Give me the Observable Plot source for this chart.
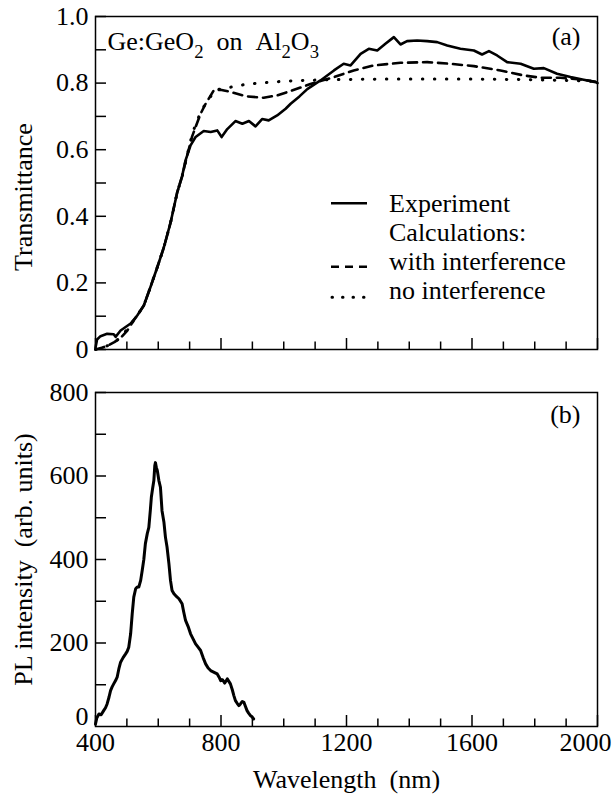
<!DOCTYPE html>
<html><head><meta charset="utf-8">
<script src="https://cdn.jsdelivr.net/npm/d3@7"></script>
<script src="https://cdn.jsdelivr.net/npm/@observablehq/plot@0.6"></script>
<style>
body{margin:0;background:#fff;}
#chart{width:616px;position:relative;}
#chart svg{display:block;}
#legend{position:absolute;left:0;top:0;}
</style></head><body><div id="chart"></div>
<script>
// ---- Panel (a): transmittance ----
const expNm = [400,405,416,437,458,464,480,512,533,554,575,597,618,639,660,676,687,703,719,745,767,788,802,820,846,868,889,910,931,952,979,1006,1022,1050,1075,1117,1160,1191,1213,1245,1271,1298,1324,1351,1372,1393,1425,1457,1489,1521,1563,1606,1632,1654,1680,1712,1755,1797,1829,1871,1914,1956,1994,2000];
const expT  = [0.005,0.03,0.040,0.047,0.046,0.038,0.057,0.078,0.102,0.132,0.187,0.247,0.307,0.38,0.47,0.52,0.568,0.613,0.638,0.656,0.653,0.658,0.638,0.662,0.686,0.678,0.686,0.670,0.692,0.688,0.703,0.723,0.738,0.760,0.782,0.808,0.838,0.858,0.853,0.888,0.903,0.898,0.918,0.938,0.916,0.926,0.928,0.926,0.923,0.913,0.903,0.898,0.886,0.896,0.883,0.863,0.858,0.843,0.845,0.828,0.818,0.810,0.803,0.80];

const intNm = [400,420,440,460,480,500,520,533,554,575,597,618,639,660,676,690,708,719,735,751,777,798,825,851,883,936,979,1011,1085,1160,1223,1287,1372,1457,1531,1606,1691,1765,1818,1882,1956,2000];
const intT  = [0.0,0.005,0.012,0.022,0.035,0.055,0.085,0.102,0.132,0.187,0.247,0.307,0.38,0.47,0.52,0.575,0.640,0.668,0.708,0.738,0.778,0.780,0.775,0.768,0.760,0.756,0.763,0.773,0.797,0.818,0.838,0.853,0.861,0.863,0.858,0.851,0.838,0.823,0.816,0.816,0.810,0.803];

const noNm = [400,440,480,520,533,554,575,597,618,639,660,676,690,708,713,735,751,782,809,841,878,921,963,1006,1100,1200,1300,1400,1500,1600,1700,1800,1900,2000];
const noT  = [0.0,0.012,0.035,0.085,0.102,0.132,0.187,0.247,0.307,0.38,0.47,0.52,0.575,0.645,0.660,0.713,0.738,0.780,0.783,0.790,0.796,0.800,0.803,0.806,0.809,0.811,0.812,0.812,0.812,0.812,0.811,0.810,0.808,0.805];

// ---- Panel (b): PL intensity ----
const plNm = [400,404,411,418,426,432,437,443,448,453,458,464,469,475,480,488,496,501,506,512,517,522,528,533,538,544,549,554,559,565,570,575,578,582,586,589,591,594,597,602,607,612,618,623,628,634,639,644,650,656,666,676,681,687,695,703,711,719,727,735,743,751,759,767,775,783,788,794,799,805,812,820,825,830,836,841,846,852,857,862,868,873,878,883,888,894,898,904];
const plI  = [6,20,30,28,38,45,54,70,86,95,102,110,118,140,154,165,174,180,190,222,270,310,330,334,334,350,374,400,438,462,477,520,549,570,589,625,632,620,613,589,573,517,490,453,430,390,350,326,318,313,306,294,275,254,240,222,210,198,190,182,165,150,140,134,131,128,126,118,110,112,104,114,108,102,88,74,62,55,50,54,60,58,48,38,32,26,24,18];

// ticks & labels
const xMajor = [400,800,1200,1600,2000];
const xMinor = [500,600,700,900,1000,1100,1300,1400,1500,1700,1800,1900];
const xLabels = [400,800,1200,1600];
const xLabelLast = [2000];
const yMajorA = [0,0.2,0.4,0.6,0.8,1.0];
const yMinorA = [0.1,0.3,0.5,0.7,0.9];
const yMajorB = [200,400,600,800];
const yZeroB = [0];
const yMinorB = [100,300,500,700];

const yLabelA = "Transmittance";
const yLabelB = "PL intensity\u00a0 (arb. units)";
const xLabel = "Wavelength\u00a0 (nm)";
const annot = "Ge:GeO2\u00a0\u00a0on\u00a0\u00a0Al2O3";
const panelA = "(a)";
const panelB = "(b)";
const legendLabels = ["Experiment","Calculations:","with interference","no interference"];
const legendStyles = ["solid", null, "dashed", "dotted"];

const font = "Liberation Serif";
const FS = 26;
const W = 616, mL = 95, mR = 19;
const frameW = W - mL - mR;

const toRows = (xs, ys, kx, ky) => xs.map((x, i) => ({[kx]: x, [ky]: ys[i]}));
const expData = toRows(expNm, expT, "nm", "t");
const intData = toRows(intNm, intT, "nm", "t");
const noData = toRows(noNm, noT, "nm", "t");
const plData = toRows(plNm, plI, "nm", "i");

const baseStyle = {fontFamily: font, fontSize: FS + "px", background: "white", color: "black", overflow: "visible"};
const txt = {fontFamily: font, fontSize: FS, fill: "black"};

// ---------- top panel ----------
const topH = 365, topMT = 16, topMB = 16;
const topFH = topH - topMT - topMB;
const topPlot = Plot.plot({
  width: W, height: topH,
  marginLeft: mL, marginRight: mR, marginTop: topMT, marginBottom: topMB,
  style: baseStyle,
  x: {domain: [400, 2000], axis: null},
  y: {domain: [0, 1], label: null},
  marks: [
    Plot.tickX(xMajor, {stroke: "black", strokeWidth: 1.5, insetTop: topFH - 11}),
    Plot.tickX(xMinor, {stroke: "black", strokeWidth: 1.5, insetTop: topFH - 7.5}),
    Plot.tickY(yMajorA, {stroke: "black", strokeWidth: 1.5, insetRight: frameW - 11}),
    Plot.tickY(yMinorA, {stroke: "black", strokeWidth: 1.5, insetRight: frameW - 11}),
    Plot.axisY(yMajorA, {...txt, tickSize: 0, tickPadding: 7, label: null,
      tickFormat: d => d === 0 ? "0" : d.toFixed(1)}),
    Plot.line(noData, {x: "nm", y: "t", stroke: "black", strokeWidth: 3, strokeDasharray: "0.5,11.5", strokeLinecap: "round"}),
    Plot.line(intData, {x: "nm", y: "t", stroke: "black", strokeWidth: 2.6, strokeDasharray: "9,6"}),
    Plot.line(expData, {x: "nm", y: "t", stroke: "black", strokeWidth: 2.6, strokeLinejoin: "round"}),
    Plot.frame({stroke: "black", strokeWidth: 1.5}),
    Plot.text([yLabelA], {...txt, frameAnchor: "left", rotate: -90, dx: -71.5, dy: 14, textAnchor: "middle", lineAnchor: "middle"}),
    Plot.text([panelA], {...txt, frameAnchor: "top-right", dx: -17, dy: 10.5, textAnchor: "end", lineAnchor: "top"}),
    Plot.text([annot], {...txt, frameAnchor: "top-left", dx: 12, dy: 15.5, textAnchor: "start", lineAnchor: "top"})
  ]
});

// ---------- bottom panel ----------
const botH = 433, botMT = 27, botMB = 72;
const botFH = botH - botMT - botMB;
const botPlot = Plot.plot({
  width: W, height: botH,
  marginLeft: mL, marginRight: mR, marginTop: botMT, marginBottom: botMB,
  style: baseStyle,
  x: {domain: [400, 2000], label: null},
  y: {domain: [0, 800], label: null},
  marks: [
    Plot.tickX(xMajor, {stroke: "black", strokeWidth: 1.5, insetTop: botFH - 11}),
    Plot.tickX(xMinor, {stroke: "black", strokeWidth: 1.5, insetTop: botFH - 7.5}),
    Plot.tickY(yMajorB, {stroke: "black", strokeWidth: 1.5, insetRight: frameW - 11}),
    Plot.tickY(yMinorB, {stroke: "black", strokeWidth: 1.5, insetRight: frameW - 11}),
    Plot.axisY(yMajorB, {...txt, tickSize: 0, tickPadding: 7, label: null, tickFormat: d => String(d)}),
    Plot.axisY(yZeroB, {...txt, tickSize: 0, tickPadding: 7, label: null, dy: -10, tickFormat: d => String(d)}),
    Plot.axisX(xLabels, {...txt, tickSize: 0, tickPadding: 6, label: null, tickFormat: d => String(d)}),
    Plot.axisX(xLabelLast, {...txt, tickSize: 0, tickPadding: 6, label: null, dx: -12, tickFormat: d => String(d)}),
    Plot.line(plData, {x: "nm", y: "i", stroke: "black", strokeWidth: 3, strokeLinejoin: "round"}),
    Plot.frame({stroke: "black", strokeWidth: 1.5}),
    Plot.text([yLabelB], {...txt, frameAnchor: "left", rotate: -90, dx: -71.5, dy: 0, textAnchor: "middle", lineAnchor: "middle"}),
    Plot.text([panelB], {...txt, frameAnchor: "top-right", dx: -17, dy: 12.5, textAnchor: "end", lineAnchor: "top"}),
    Plot.text([xLabel], {...txt, frameAnchor: "bottom", dy: 43.5, textAnchor: "middle", lineAnchor: "top"})
  ]
});

// subscripts for the chemical formula
d3.select(topPlot).selectAll("text").filter(function(){ return this.textContent === annot; }).each(function(){
  const t = d3.select(this);
  t.text(null);
  const parts = annot.match(/\d+|[^\d]+/g);
  let inSub = false;
  parts.forEach(p => {
    if (/^\d+$/.test(p)) {
      t.append("tspan").attr("dy", 8).attr("font-size", "0.72em").text(p);
      inSub = true;
    } else {
      const s = t.append("tspan").text(p);
      if (inSub) s.attr("dy", -8);
      inSub = false;
    }
  });
});

// serif face on every text node
[topPlot, botPlot].forEach(svg => {
  svg.setAttribute("font-family", font);
  svg.querySelectorAll("g, text, tspan").forEach(el => el.setAttribute("font-family", font));
});

// legend inside panel (a), as an overlay layer
const legendSvg = d3.create("svg").attr("id", "legend")
  .attr("width", W).attr("height", topH);
const lg = legendSvg.append("g").attr("fill", "black");
const lgX0 = 331, lgX1 = 367, lgTextX = 389, lgBase0 = 211.7, lgStep = 29;
const sampleOffset = {solid: -8.5, dashed: -3, dotted: -1.5};
legendLabels.forEach((lab, i) => {
  const yb = lgBase0 + i * lgStep;
  lg.append("text").attr("x", lgTextX).attr("y", yb)
    .attr("font-family", font).attr("font-size", FS).text(lab);
  const st = legendStyles[i];
  if (st) {
    const ln = lg.append("line").attr("x1", lgX0).attr("x2", lgX1)
      .attr("y1", yb + sampleOffset[st]).attr("y2", yb + sampleOffset[st])
      .attr("stroke", "black");
    if (st === "solid") ln.attr("stroke-width", 2.6);
    if (st === "dashed") ln.attr("stroke-width", 2.6).attr("stroke-dasharray", "8,6");
    if (st === "dotted") ln.attr("x1", lgX0 + 1).attr("stroke-width", 3).attr("stroke-dasharray", "0.5,10").attr("stroke-linecap", "round");
  }
});

document.getElementById("chart").append(topPlot, botPlot, legendSvg.node());
</script></body></html>
